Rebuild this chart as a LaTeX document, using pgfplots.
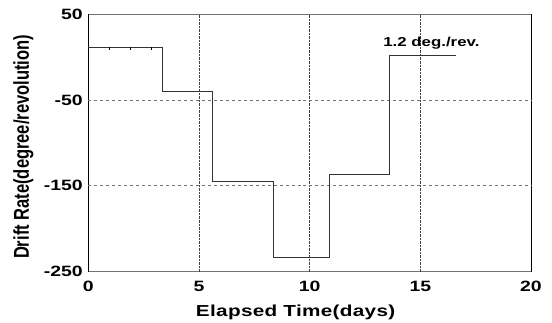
\documentclass[border=0pt]{standalone}
\usepackage{fontspec}
\setmainfont{Liberation Sans}
\newfontfamily\widefont[FakeStretch=1.3]{Liberation Sans}
\usepackage{pgfplots}
\pgfplotsset{compat=1.18}

\begin{document}
\begin{tikzpicture}
\begin{axis}[
  at={(0,0)}, anchor=south west,
  scale only axis,
  width=442.7bp, height=257.7bp,
  xmin=0, xmax=20, ymin=-250, ymax=50,
  xtick={0,5,...,20}, ytick={-250,-150,-50,50},
  tick style={draw=none},
  /pgf/number format/assume math mode=true,
  ticklabel style={font=\widefont\fontsize{15}{15}\selectfont\bfseries},
  xticklabel style={yshift=-6bp},
  yticklabel style={xshift=-2bp},
  grid=none,
  extra x ticks={5,10,15},
  extra x tick labels={},
  extra x tick style={grid=major, major grid style={black!75, densely dotted, line width=0.8pt}},
  extra y ticks={-150,-50},
  extra y tick labels={},
  extra y tick style={grid=major, major grid style={black!55, dashed, line width=0.8pt}},
  axis line style={line width=0.9pt},
  separate axis lines,
  x axis line style={black!55},
  xlabel={\widefont\fontsize{16}{16}\selectfont\bfseries\addfontfeatures{LetterSpace=2}Elapsed Time(days)},
  ylabel={\fontsize{16.6}{16.6}\selectfont\bfseries Drift Rate(degree/revolution)},
  xlabel style={yshift=-6bp, xshift=-14bp},
  ylabel style={yscale=1.3, yshift=2bp, xshift=-4bp},
  clip=false,
]
% drift-rate steps
\addplot[const plot, black!80, line width=1pt] coordinates {
  (0,11) (3.36,-40) (5.62,-145) (8.37,-234) (10.89,-137) (13.61,1.2) (16.6,1.2)
};
% small tick marks on the first segment
\addplot[only marks, mark=|, mark size=1.3bp, black, line width=1pt] coordinates {
  (0.95,9.5) (1.9,9.5) (2.87,9.5)
};
\node[font=\widefont\fontsize{13}{13}\selectfont\bfseries] at (axis cs:15.5,15.5) {1.2 deg./rev.};
\end{axis}
\useasboundingbox (-88.3bp,-51.3bp) rectangle (463.7bp,271.7bp);
\end{tikzpicture}
\end{document}
